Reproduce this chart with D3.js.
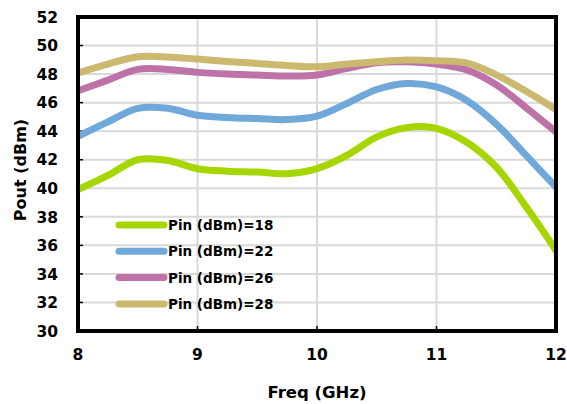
<!DOCTYPE html>
<html>
<head>
<meta charset="utf-8">
<script src="https://cdn.jsdelivr.net/npm/d3@7"></script>
<style>
  body { margin: 0; background: #fff; }
  text { font-family: "DejaVu Sans", sans-serif; font-weight: bold; fill: #000; }
</style>
</head>
<body>
<div id="chart"></div>
<script>
// frequency points (GHz)
var freq = [8, 8.25, 8.5, 8.75, 9, 9.25, 9.5, 9.75, 10, 10.25, 10.5, 10.75, 11, 11.25, 11.5, 11.75, 12];

// Pout (dBm) for each input power
var pin18 = [39.9, 40.9, 42.0, 41.95, 41.37, 41.2, 41.14, 41.02, 41.37, 42.3, 43.6, 44.25, 44.2, 43.24, 41.49, 38.7, 35.64];
var pin22 = [43.64, 44.65, 45.6, 45.6, 45.12, 44.96, 44.88, 44.81, 45.05, 45.94, 46.92, 47.34, 47.1, 46.17, 44.5, 42.3, 40.08];
var pin26 = [46.83, 47.58, 48.33, 48.33, 48.12, 48.0, 47.93, 47.86, 47.93, 48.4, 48.8, 48.86, 48.7, 48.3, 47.25, 45.65, 43.95];
var pin28 = [48.09, 48.7, 49.21, 49.2, 49.05, 48.89, 48.75, 48.6, 48.51, 48.7, 48.86, 48.98, 48.93, 48.78, 47.95, 46.8, 45.52];

var seriesNames = ["Pin (dBm)=18", "Pin (dBm)=22", "Pin (dBm)=26", "Pin (dBm)=28"];
var seriesColors = ["#a5d600", "#70a8da", "#bd72a8", "#cbb96f"];

var xTicks = [8, 9, 10, 11, 12];
var yTicks = [30, 32, 34, 36, 38, 40, 42, 44, 46, 48, 50, 52];

var width = 567, height = 404;
var margin = {top: 17, right: 11, bottom: 73, left: 78};

var svg = d3.select("#chart").append("svg")
    .attr("width", width)
    .attr("height", height);

var x = d3.scaleLinear().domain([8, 12]).range([margin.left, width - margin.right]);
var y = d3.scaleLinear().domain([30, 52]).range([height - margin.bottom, margin.top]);

// grid
svg.append("g")
  .selectAll("line")
  .data(yTicks.slice(1, -1))
  .enter().append("line")
    .attr("x1", x(8)).attr("x2", x(12))
    .attr("y1", function(d) { return y(d); })
    .attr("y2", function(d) { return y(d); })
    .attr("stroke", "#d9d9d9")
    .attr("stroke-width", 2);

svg.append("g")
  .selectAll("line")
  .data(xTicks.slice(1, -1))
  .enter().append("line")
    .attr("x1", function(d) { return x(d); })
    .attr("x2", function(d) { return x(d); })
    .attr("y1", y(52)).attr("y2", y(30))
    .attr("stroke", "#d9d9d9")
    .attr("stroke-width", 2);

// small inner tick marks
svg.append("g")
  .selectAll("line")
  .data(yTicks)
  .enter().append("line")
    .attr("x1", x(8)).attr("x2", x(8) + 5)
    .attr("y1", function(d) { return y(d); })
    .attr("y2", function(d) { return y(d); })
    .attr("stroke", "#000").attr("stroke-width", 1.5);

svg.append("g")
  .selectAll("line")
  .data(xTicks)
  .enter().append("line")
    .attr("x1", function(d) { return x(d); })
    .attr("x2", function(d) { return x(d); })
    .attr("y1", y(30)).attr("y2", y(30) - 5)
    .attr("stroke", "#000").attr("stroke-width", 1.5);

// series lines
var allSeries = [pin18, pin22, pin26, pin28];
var line = d3.line()
    .x(function(d, i) { return x(freq[i]); })
    .y(function(d) { return y(d); })
    .curve(d3.curveCatmullRom.alpha(0.5));

svg.append("defs").append("clipPath").attr("id", "clip")
  .append("rect")
    .attr("x", x(8)).attr("y", y(52))
    .attr("width", x(12) - x(8)).attr("height", y(30) - y(52));

allSeries.forEach(function(s, k) {
  svg.append("path")
    .attr("d", line(s))
    .attr("fill", "none")
    .attr("stroke", seriesColors[k])
    .attr("stroke-width", 7)
    .attr("stroke-linecap", "round")
    .attr("clip-path", "url(#clip)");
});

// frame
svg.append("rect")
    .attr("x", x(8)).attr("y", y(52))
    .attr("width", x(12) - x(8)).attr("height", y(30) - y(52))
    .attr("fill", "none")
    .attr("stroke", "#000")
    .attr("stroke-width", 4);

// tick labels
svg.append("g")
  .selectAll("text")
  .data(yTicks)
  .enter().append("text")
    .attr("x", 58)
    .attr("y", function(d) { return y(d); })
    .attr("dy", "0.37em")
    .attr("text-anchor", "end")
    .attr("font-size", "15.5px")
    .text(function(d) { return d; });

svg.append("g")
  .selectAll("text")
  .data(xTicks)
  .enter().append("text")
    .attr("x", function(d) { return x(d); })
    .attr("y", 360)
    .attr("text-anchor", "middle")
    .attr("font-size", "15.5px")
    .text(function(d) { return d; });

// axis titles
svg.append("text")
    .attr("x", (x(8) + x(12)) / 2)
    .attr("y", 398)
    .attr("text-anchor", "middle")
    .attr("font-size", "16.5px")
    .text("Freq (GHz)");

svg.append("text")
    .attr("transform", "translate(26,170) rotate(-90)")
    .attr("text-anchor", "middle")
    .attr("font-size", "16px")
    .text("Pout (dBm)");

// legend
var legend = svg.append("g")
  .selectAll("g")
  .data(seriesNames)
  .enter().append("g")
    .attr("transform", function(d, i) { return "translate(0," + (225 + i * 26.3) + ")"; });

legend.append("line")
    .attr("x1", 119).attr("x2", 164)
    .attr("y1", 0).attr("y2", 0)
    .attr("stroke", function(d, i) { return seriesColors[i]; })
    .attr("stroke-width", 7)
    .attr("stroke-linecap", "round");

legend.append("text")
    .attr("x", 168)
    .attr("y", 0)
    .attr("dy", "0.37em")
    .attr("font-size", "13.5px")
    .text(function(d) { return d; });
</script>
</body>
</html>
